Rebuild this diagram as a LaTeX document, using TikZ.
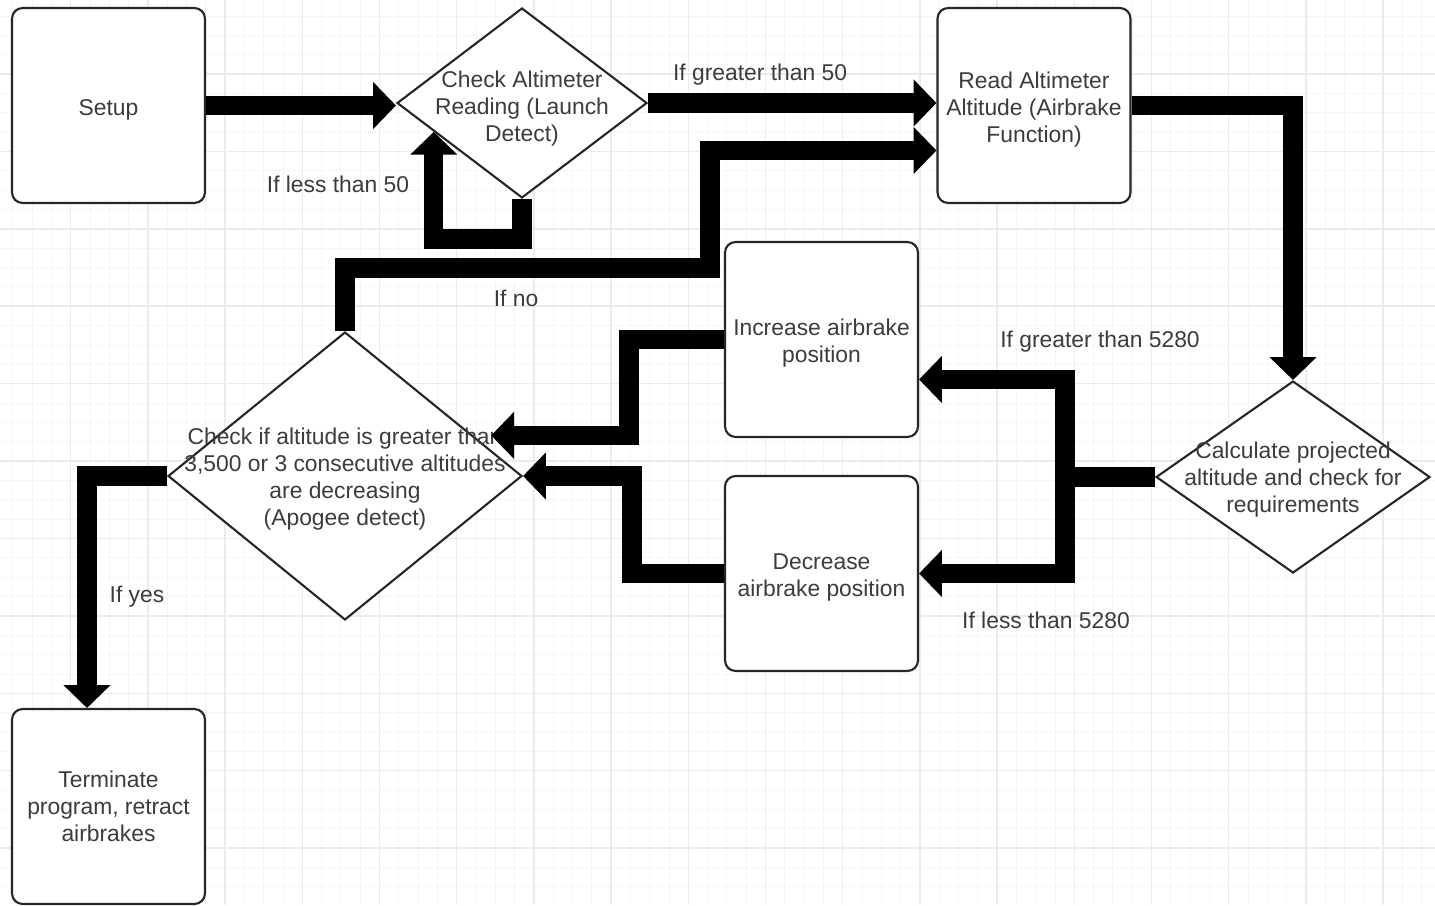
\documentclass[tikz,border=0pt]{standalone}
\usepackage{fontspec}
\setmainfont{Liberation Sans}
\usetikzlibrary{shapes.geometric,arrows.meta,calc}

\newcommand{\flowfont}{\fontsize{13}{15.3}\selectfont}
\newcommand{\lift}{\rule{0pt}{14pt}}
\definecolor{inkgray}{HTML}{3C3C3C}

\tikzset{
  box/.style={draw=black!85, line width=1.2pt, rounded corners=6pt, fill=white,
    minimum width=3.86cm, minimum height=3.9cm, align=center, text=inkgray, font=\flowfont},
  dia/.style={draw=black!85, line width=1.2pt, diamond, fill=white, inner sep=0pt},
  txt/.style={align=center, text=inkgray, font=\flowfont, yshift=-1.6pt},
  note/.style={text=inkgray, font=\flowfont},
  flow/.style={line width=11pt, -{Triangle[width=26pt,length=13pt]}},
  link/.style={line width=11pt},
  minorline/.style={draw=black!4, line width=0.4pt},
  majorline/.style={draw=black!8, line width=0.8pt}
}

\begin{document}
\begin{tikzpicture}[x=0.02cm, y=-0.02cm]

\useasboundingbox (0,0) rectangle (1435,905);
\fill[white] (0,0) rectangle (1435,905);

% grid paper
\foreach \i in {-4,...,71} {
  \draw[minorline] ({70.6+19.3*\i},0) -- ({70.6+19.3*\i},905);
}
\foreach \i in {-4,...,44} {
  \draw[minorline] (0,{74+19.35*\i}) -- (1435,{74+19.35*\i});
}
\foreach \i in {-1,...,17} {
  \draw[majorline] ({70.6+77.2*\i},0) -- ({70.6+77.2*\i},905);
}
\foreach \i in {-1,...,11} {
  \draw[majorline] (0,{74+77.4*\i}) -- (1435,{74+77.4*\i});
}

% blocks
\node[box] (setup) at (108.5,105.5) {\lift Setup};
\node[dia, minimum width=5cm, minimum height=3.8cm] (chk) at (522,103) {};
\node[txt, yshift=-1.8pt] (chk-t) at (chk) {Check Altimeter\\Reading (Launch\\Detect)};
\node[box] (read) at (1034,105.5) {\lift Read Altimeter\\Altitude (Airbrake\\Function)};
\node[box] (inc) at (821.5,339.5) {\lift Increase airbrake\\position};
\node[box] (dec) at (821.5,573.5) {\lift Decrease\\airbrake position};
\node[dia, minimum width=7.08cm, minimum height=5.76cm] (apo) at (345,476) {};
\node[txt] (apo-t) at (apo) {Check if altitude is greater than\\3,500 or 3 consecutive altitudes\\are decreasing\\(Apogee detect)};
\node[dia, minimum width=5.48cm, minimum height=3.84cm] (calc) at (1293,477) {};
\node[txt] (calc-t) at (calc) {Calculate projected\\altitude and check for\\requirements};
\node[box] (term) at (108.5,806.5) {Terminate\\program, retract\\airbrakes};

% connectors
\coordinate (split) at (1065,477);

\draw[flow] (setup.east) -- (setup.east -| chk.west);
\draw[flow] (chk.east) -- (chk.east -| read.west);
\draw[flow] (chk.south) -- ++(0,40) -| ($(chk.west)!.3!(chk.south)$);
\draw[flow] (read.east) -| (calc.north);
\draw[link] (calc.west) -- (split);
\draw[flow] (split) |- ([yshift=-0.8cm]inc.east);
\draw[flow] (split) |- (dec.east);
\draw[flow] (inc.west) -- ++(-95,0) |- ($(apo.north)!.72!(apo.east)+(18,0)$);
\draw[flow] (dec.west) -- ++(-92,0) |- (apo.east);
\draw[flow] (apo.north) |- (710,268) |- ([yshift=-0.9cm]read.west);
\draw[flow] (apo.west) -| ([xshift=-0.43cm]term.north);

% labels
\node[note] (gt50) at (760,75) {If greater than 50};
\node[note] (lt50) at (338,184) {If less than 50};
\node[note] (no) at (516,298) {If no};
\node[note] (gt5280) at (1100,342) {If greater than 5280};
\node[note] (lt5280) at (1046,620) {If less than 5280};
\node[note] (yes) at (137,597) {If yes};

\end{tikzpicture}
\end{document}
